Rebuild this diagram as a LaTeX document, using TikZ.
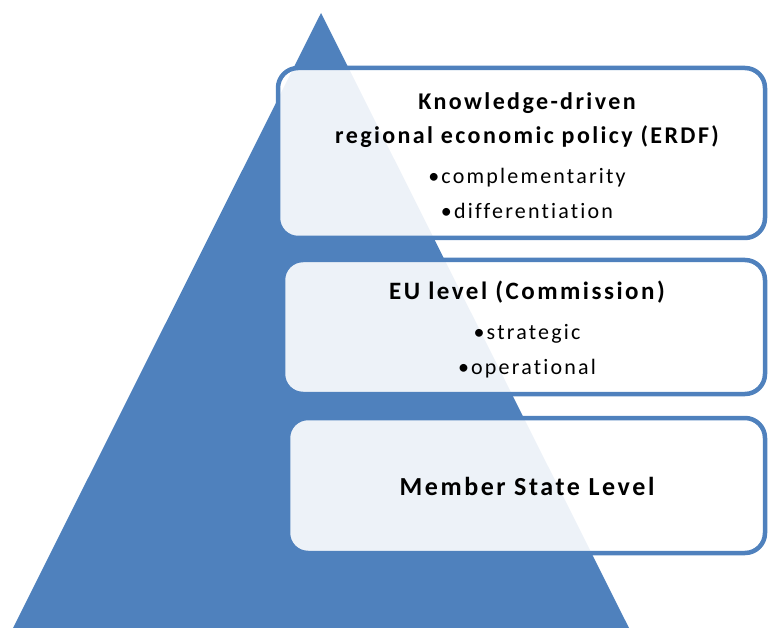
\documentclass[tikz,border=0pt]{standalone}
\usepackage{fontspec}
\setmainfont{Carlito}[Ligatures=NoCommon]
\definecolor{pyrblue}{HTML}{4F81BD}
\begin{document}
\begin{tikzpicture}[x=1pt,y=-1pt,
        level box/.style={draw=pyrblue,line width=4.5pt,rounded corners=20pt,
          fill=white,fill opacity=0.9,inner sep=0pt},
        title/.style={font=\bfseries\fontsize{#1}{34}\selectfont\addfontfeatures{LetterSpace=10},align=center},
        item/.style={font=\fontsize{22}{26}\selectfont\addfontfeatures{LetterSpace=10}}]
        \useasboundingbox (0,0) rectangle (768,628);
        % pyramid
        \fill[pyrblue] (321,13) -- (629,628) -- (13,628) -- cycle;
        % levels
        \node[level box, minimum width=487pt, minimum height=170pt] (erdf) at (521.5,153) {};
        \node[level box, minimum width=482pt, minimum height=134pt] (eu) at (524,327) {};
        \node[level box, minimum width=477pt, minimum height=135pt] (ms) at (526.5,485.5) {};
        % texts
        \node[title=24] (erdf title) at (527,120) {Knowledge-driven\\regional economic policy (ERDF)};
        \node[item] (compl) at (527,178) {•complementarity};
        \node[item] (diff) at (527,211) {•differentiation};
        \node[title=25] (eu title) at (527,292) {EU level (Commission)};
        \node[item] (strat) at (527,334) {•strategic};
        \node[item] (oper) at (527,369) {•operational};
        \node[title=26] (ms title) at (527,486) {Member State Level};
\end{tikzpicture}
\end{document}
